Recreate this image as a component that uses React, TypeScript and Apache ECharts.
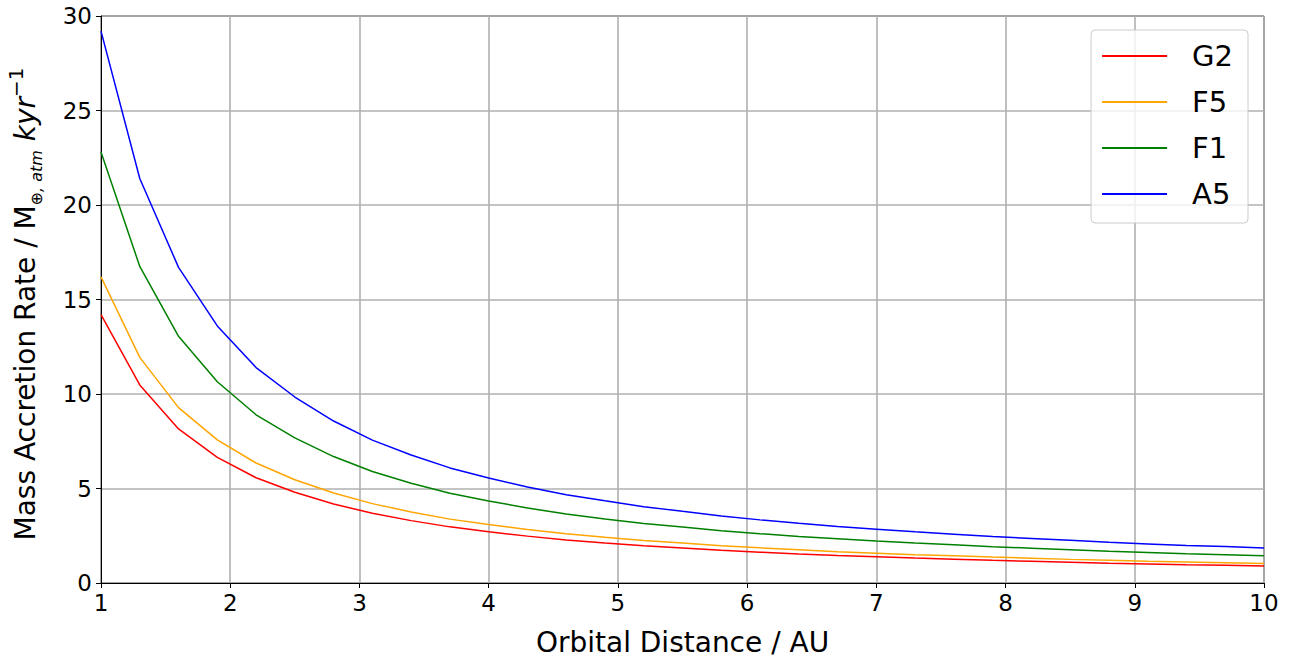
import React, { useEffect, useRef } from "react";
import * as echarts from "echarts";

const distances = [1, 1.3, 1.6, 1.9, 2.2, 2.5, 2.8, 3.1, 3.4, 3.7, 4.0, 4.3, 4.6, 4.9, 5.2, 5.5, 5.8, 6.1, 6.4, 6.7, 7.0, 7.3, 7.6, 7.9, 8.2, 8.5, 8.8, 9.1, 9.4, 9.7, 10.0];
const g2 = [14.2, 10.48, 8.15, 6.65, 5.57, 4.8, 4.18, 3.69, 3.3, 2.97, 2.71, 2.48, 2.28, 2.12, 1.97, 1.85, 1.73, 1.63, 1.54, 1.46, 1.39, 1.32, 1.26, 1.2, 1.15, 1.1, 1.05, 1.01, 0.97, 0.94, 0.9];
const f5 = [16.2, 11.94, 9.28, 7.57, 6.35, 5.46, 4.76, 4.2, 3.76, 3.38, 3.09, 2.83, 2.6, 2.42, 2.25, 2.11, 1.97, 1.86, 1.76, 1.66, 1.58, 1.5, 1.44, 1.37, 1.31, 1.25, 1.2, 1.15, 1.11, 1.07, 1.03];
const f1 = [22.8, 16.75, 13.05, 10.65, 8.9, 7.68, 6.69, 5.9, 5.28, 4.75, 4.34, 3.97, 3.65, 3.39, 3.15, 2.96, 2.77, 2.61, 2.46, 2.34, 2.22, 2.11, 2.02, 1.92, 1.84, 1.76, 1.68, 1.62, 1.55, 1.5, 1.44];
const a5 = [29.2, 21.4, 16.7, 13.6, 11.4, 9.84, 8.57, 7.56, 6.77, 6.09, 5.56, 5.08, 4.67, 4.35, 4.04, 3.79, 3.55, 3.34, 3.16, 2.99, 2.85, 2.71, 2.58, 2.46, 2.36, 2.26, 2.15, 2.07, 1.99, 1.93, 1.85];

const seriesDefs = [
  { name: "G2", values: g2, color: "#ff0000" },
  { name: "F5", values: f5, color: "#ffa500" },
  { name: "F1", values: f1, color: "#008000" },
  { name: "A5", values: a5, color: "#0000ff" },
];

const FONT = "DejaVu Sans";

export default function App() {
  const ref = useRef<HTMLDivElement>(null);
  useEffect(() => {
    if (!ref.current) return;
    const chart = echarts.init(ref.current, null, { renderer: "svg" });
    chart.setOption({
      animation: false,
      backgroundColor: "#ffffff",
      textStyle: { fontFamily: FONT },
      grid: {
        left: 101,
        right: 34,
        top: 16,
        bottom: 76,
        containLabel: false,
        outerBoundsMode: "none",
        show: true,
        borderColor: "#000000",
        borderWidth: 1,
        backgroundColor: "transparent",
      },
      legend: {
        orient: "vertical",
        right: 50,
        top: 30,
        padding: [11, 15, 14, 11],
        itemGap: 16,
        itemWidth: 65,
        itemHeight: 2,
        icon: "rect",
        backgroundColor: "rgba(255,255,255,0.8)",
        borderColor: "#cccccc",
        borderWidth: 1,
        borderRadius: 4,
        textStyle: {
          fontFamily: FONT,
          fontSize: 29,
          color: "#000000",
          lineHeight: 30,
          padding: [0, 0, 0, 20],
        },
        data: seriesDefs.map((s) => s.name),
      },
      xAxis: {
        type: "value",
        min: 1,
        max: 10,
        interval: 1,
        name: "Orbital Distance / AU",
        nameLocation: "middle",
        nameGap: 45,
        nameTextStyle: { fontFamily: FONT, fontSize: 28, color: "#000000" },
        axisLine: { show: true, lineStyle: { color: "#000000", width: 1 } },
        axisTick: { show: true, length: 5, lineStyle: { color: "#000000" } },
        axisLabel: { fontFamily: FONT, fontSize: 23, color: "#000000", margin: 8 },
        splitLine: { show: true, lineStyle: { color: "#b0b0b0", width: 1.6 } },
      },
      yAxis: {
        type: "value",
        min: 0,
        max: 30,
        interval: 5,
        name: "{a|Mass Accretion Rate / M}{s|⊕, atm}{a| }{i|kyr}{p|−1}{a| }",
        nameLocation: "middle",
        nameGap: 57,
        nameTextStyle: {
          fontFamily: FONT,
          color: "#000000",
          rich: {
            a: { fontFamily: FONT, fontSize: 28, lineHeight: 38, verticalAlign: "middle", color: "#000" },
            s: { fontFamily: FONT, fontSize: 16, lineHeight: 22, verticalAlign: "bottom", color: "#000", fontStyle: "italic" },
            i: { fontFamily: FONT, fontSize: 28, lineHeight: 38, verticalAlign: "middle", color: "#000", fontStyle: "italic" },
            p: { fontFamily: FONT, fontSize: 20, lineHeight: 22, verticalAlign: "top", color: "#000" },
          },
        },
        axisLine: { show: true, lineStyle: { color: "#000000", width: 1 } },
        axisTick: { show: true, length: 5, lineStyle: { color: "#000000" } },
        axisLabel: { fontFamily: FONT, fontSize: 23, color: "#000000", margin: 9 },
        splitLine: { show: true, lineStyle: { color: "#b0b0b0", width: 1.6 } },
      },
      series: seriesDefs.map((s) => ({
        name: s.name,
        type: "line",
        data: distances.map((d, i) => [d, s.values[i]]),
        showSymbol: false,
        symbol: "none",
        color: s.color,
        lineStyle: { color: s.color, width: 1.5 },
        z: 3,
      })),
    });
    return () => chart.dispose();
  }, []);
  return <div ref={ref} style={{ position: "fixed", left: 0, top: 0, width: 1298, height: 659 }} />;
}
